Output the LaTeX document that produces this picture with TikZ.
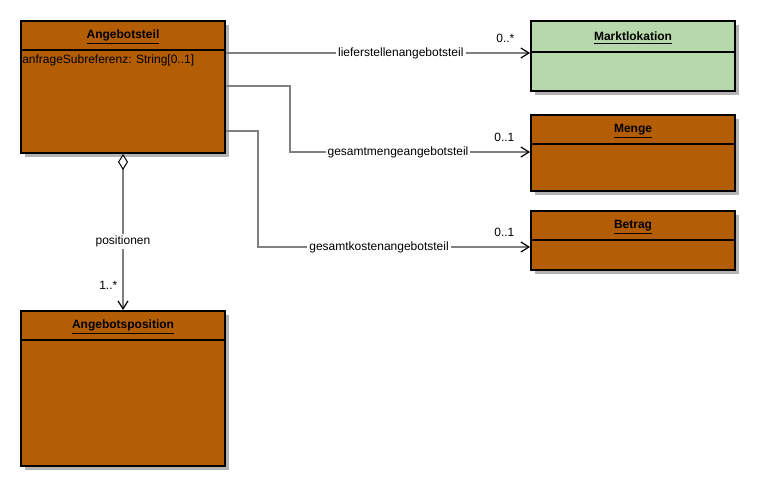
\documentclass[tikz,border=0pt]{standalone}
\usepackage{fontspec}
\setmainfont{Liberation Sans}
\usetikzlibrary{arrows.meta,shadows,calc}
\definecolor{umlbrown}{RGB}{179,93,5}
\definecolor{umlgreen}{RGB}{183,216,171}
\definecolor{umlshadow}{RGB}{179,179,179}
\definecolor{umlline}{RGB}{128,128,128}

\begin{document}
\begin{tikzpicture}[x=0.75pt, y=-0.75pt, font=\fontsize{9}{10}\selectfont,
  klasse/.style={draw, line width=1.5pt, anchor=north west, minimum width=153pt, inner sep=0pt, fill=umlbrown,
    drop shadow={shadow xshift=3pt, shadow yshift=-3pt, fill=umlshadow, opacity=1}},
  titel/.style={font=\fontsize{9}{10}\selectfont\bfseries},
  assoc/.style={draw=umlline, line width=1pt, -{Straight Barb[length=6pt, width=7.5pt, color=black, line width=0.9pt]}},
  aggr/.style={assoc, {Diamond[length=12pt, width=7.5pt, fill=white, color=black, line width=0.75pt]}-{Straight Barb[length=6pt, width=7.5pt, color=black, line width=0.9pt]}},
  lbl/.style={fill=white, inner sep=1.5pt},
  mult/.style={anchor=east, inner sep=0pt}]
  \useasboundingbox (0,0) rectangle (762,485);

  \node[klasse, minimum height=99pt] (angebotsteil) at (20,20) {};
  \node[titel] at ($(angebotsteil.north)+(0,17)$) {\underline{Angebotsteil}};
  \draw[line width=1.5pt] ($(angebotsteil.north west)+(0,30)$) -- ($(angebotsteil.north east)+(0,30)$);
  \node[anchor=west, inner sep=0pt] at ($(angebotsteil.north west)+(2,40)$) {anfrageSubreferenz: String[0..1]};

  \node[klasse, fill=umlgreen, minimum height=52.5pt] (markt) at (530,20) {};
  \node[titel] at ($(markt.north)+(0,18)$) {\underline{Marktlokation}};
  \draw[line width=1.5pt] ($(markt.north west)+(0,32)$) -- ($(markt.north east)+(0,32)$);

  \node[klasse, minimum height=57pt] (menge) at (530,114) {};
  \node[titel] at ($(menge.north)+(0,17)$) {\underline{Menge}};
  \draw[line width=1.5pt] ($(menge.north west)+(0,30)$) -- ($(menge.north east)+(0,30)$);

  \node[klasse, minimum height=44.25pt] (betrag) at (530,210) {};
  \node[titel] at ($(betrag.north)+(0,17)$) {\underline{Betrag}};
  \draw[line width=1.5pt] ($(betrag.north west)+(0,30)$) -- ($(betrag.north east)+(0,30)$);

  \node[klasse, minimum height=116.25pt] (angebotsposition) at (20,310) {};
  \node[titel] at ($(angebotsposition.north)+(0,17)$) {\underline{Angebotsposition}};
  \draw[line width=1.5pt] ($(angebotsposition.north west)+(0,30)$) -- ($(angebotsposition.north east)+(0,30)$);

  \coordinate (s1) at ([yshift=-24.75pt]angebotsteil.north east);
  \coordinate (s2) at ([yshift=-49.5pt]angebotsteil.north east);
  \coordinate (s3) at ([yshift=-83.25pt]angebotsteil.north east);
  \coordinate (k2) at (290,152);
  \coordinate (k3) at (258,247);

  \draw[assoc] (s1) -- node[lbl, pos=.575] {lieferstellenangebotsteil}
    node[mult, at end, xshift=-11.25pt, yshift=11.25pt] {0..*} (s1 -| markt.west);
  \draw[assoc] (s2) -| (k2) -- node[lbl, pos=.45] {gesamtmengeangebotsteil}
    node[mult, at end, xshift=-11.25pt, yshift=11.25pt] {0..1} (k2 -| menge.west);
  \draw[assoc] (s3) -| (k3) -- node[lbl, pos=.445] {gesamtkostenangebotsteil}
    node[mult, at end, xshift=-11.25pt, yshift=11.25pt] {0..1} (k3 -| betrag.west);
  \draw[aggr] (angebotsteil.south) -- node[lbl, pos=.56] {positionen}
    node[mult, at end, xshift=-3.75pt, yshift=18.75pt] {1..*} (angebotsposition.north);
\end{tikzpicture}
\end{document}
